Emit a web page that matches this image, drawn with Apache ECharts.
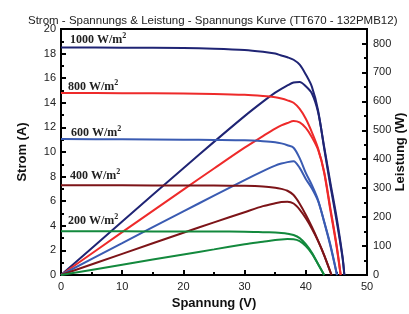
<!DOCTYPE html>
<html>
<head>
<meta charset="utf-8">
<script src="https://cdn.jsdelivr.net/npm/echarts@6/dist/echarts.min.js"></script>
<style>
  html, body { margin: 0; padding: 0; background: #fff; }
  #chart { width: 409px; height: 314px; }
</style>
</head>
<body>
<div id="chart"></div>
<script>
// Spannung (V) je Einstrahlung
const volt1000 = [0, 10, 20, 25, 30, 33, 35, 36, 37, 38, 39, 40, 41, 42, 43, 44, 45, 46, 46.3];
const volt800 = [0, 10, 20, 25, 30, 33, 35, 36, 37, 38, 39, 40, 41, 42, 43, 44, 45, 45.7];
const volt600 = [0, 10, 20, 25, 30, 33, 35, 36, 37, 38, 39, 40, 41, 42, 43, 44, 45.1];
const volt400 = [0, 10, 20, 25, 30, 33, 35, 36, 37, 38, 39, 40, 41, 42, 43, 44.2];
const volt200 = [0, 10, 20, 25, 30, 33, 35, 36, 37, 38, 39, 40, 41, 42, 43.0];

// Strom (A)
const strom1000 = [18.5, 18.48, 18.45, 18.4, 18.3, 18.15, 18.0, 17.85, 17.7, 17.5, 17.1, 16.3, 15.3, 13.4, 10.3, 7.3, 4.5, 1.4, 0];
const strom800 = [14.8, 14.78, 14.75, 14.72, 14.65, 14.55, 14.45, 14.35, 14.2, 14.0, 13.5, 12.7, 11.6, 10.3, 8.3, 5.3, 2.4, 0];
const strom600 = [11.05, 11.03, 11.0, 10.98, 10.95, 10.88, 10.8, 10.7, 10.55, 10.35, 9.5, 8.3, 7.3, 6.1, 4.3, 2.4, 0];
const strom400 = [7.3, 7.29, 7.28, 7.27, 7.25, 7.2, 7.1, 7.0, 6.85, 6.5, 5.8, 4.9, 3.9, 2.8, 1.6, 0];
const strom200 = [3.55, 3.55, 3.54, 3.54, 3.52, 3.48, 3.45, 3.42, 3.36, 3.25, 3.0, 2.5, 1.8, 0.9, 0];

// Leistung (W)
const leistung1000 = [0, 184.8, 369, 460, 549, 599, 630, 643, 655, 665, 667, 652, 627, 563, 443, 321, 203, 64, 0];
const leistung800 = [0, 148, 295, 368, 440, 480, 506, 517, 525, 532, 527, 508, 476, 433, 357, 233, 108, 0];
const leistung600 = [0, 110, 220, 274, 328, 359, 378, 385, 390, 393, 370, 332, 299, 256, 185, 106, 0];
const leistung400 = [0, 73, 146, 182, 217, 238, 248, 252, 253, 247, 226, 196, 160, 118, 69, 0];
const leistung200 = [0, 35.5, 71, 88.5, 106, 115, 121, 123, 124, 123.5, 117, 100, 74, 38, 0];

const kurven = [
  { name: "1000", volt: volt1000, strom: strom1000, leistung: leistung1000, color: "#1f2474", label: [70, 44] },
  { name: "800", volt: volt800, strom: strom800, leistung: leistung800, color: "#ee2a2a", label: [68, 91] },
  { name: "600", volt: volt600, strom: strom600, leistung: leistung600, color: "#3a5bb2", label: [71, 137] },
  { name: "400", volt: volt400, strom: strom400, leistung: leistung400, color: "#7d1418", label: [70, 180] },
  { name: "200", volt: volt200, strom: strom200, leistung: leistung200, color: "#13893d", label: [68, 225] }
];

const pair = (xs, ys) => xs.map((x, i) => [x, ys[i]]);

const series = [];
kurven.forEach(k => {
  series.push({
    name: k.name + " I", type: "line", yAxisIndex: 0, smooth: 0.3, showSymbol: false,
    data: pair(k.volt, k.strom), lineStyle: { width: 2, color: k.color }, z: 3
  });
  series.push({
    name: k.name + " P", type: "line", yAxisIndex: 1, smooth: 0.3, showSymbol: false,
    data: pair(k.volt, k.leistung), lineStyle: { width: 2, color: k.color }, z: 3
  });
});

const labelText = kurven.map(k => ({
  type: "text",
  left: k.label[0],
  top: k.label[1] - 12,
  z: 10,
  style: {
    text: "{a|" + k.name + " W/m}{s|2}",
    rich: {
      a: { font: "bold 12px 'Liberation Serif', 'DejaVu Serif', serif", fill: "#222", verticalAlign: "bottom" },
      s: { font: "bold 8px 'Liberation Serif', 'DejaVu Serif', serif", fill: "#222", verticalAlign: "top", padding: [0, 0, 6, 0] }
    }
  }
}));

const tickLabel = { fontSize: 11, color: "#222", fontFamily: "Liberation Sans, Arial, sans-serif" };
const axisName = { fontSize: 13, fontWeight: "bold", color: "#111", fontFamily: "Liberation Sans, Arial, sans-serif" };

const chart = echarts.init(document.getElementById("chart"));
chart.setOption({
  animation: false,
  title: {
    text: "Strom - Spannungs & Leistung - Spannungs Kurve (TT670 - 132PMB12)",
    left: 23, top: 10,
    textStyle: { fontSize: 11.5, fontWeight: "normal", color: "#222", fontFamily: "Liberation Sans, Arial, sans-serif" }
  },
  grid: {
    left: 61, right: 42, top: 29, bottom: 39, containLabel: false, outerBoundsMode: "none",
    show: true, borderColor: "#000", borderWidth: 2
  },
  xAxis: {
    type: "value", min: 0, max: 50, interval: 10,
    name: "Spannung (V)", nameLocation: "middle", nameGap: 22, nameMoveOverlap: false, nameTextStyle: axisName,
    axisLine: { show: true, lineStyle: { color: "#000", width: 2 } },
    axisTick: { inside: true, length: 5, lineStyle: { color: "#000", width: 2 } },
    minorTick: { show: true, splitNumber: 2, length: 3, lineStyle: { color: "#000", width: 2 } },
    splitLine: { show: false },
    axisLabel: Object.assign({ margin: 6 }, tickLabel)
  },
  yAxis: [
    {
      type: "value", min: 0, max: 20, interval: 2,
      name: "Strom (A)", nameLocation: "middle", nameGap: 32, nameMoveOverlap: false, nameTextStyle: axisName,
      axisLine: { show: true, lineStyle: { color: "#000", width: 2 } },
      axisTick: { inside: true, length: 5, lineStyle: { color: "#000", width: 2 } },
      minorTick: { show: true, splitNumber: 2, length: 3, lineStyle: { color: "#000", width: 2 } },
      splitLine: { show: false },
      axisLabel: Object.assign({ margin: 5 }, tickLabel)
    },
    {
      type: "value", min: 0, max: 850, interval: 100, position: "right",
      name: "Leistung (W)", nameLocation: "middle", nameGap: 27, nameMoveOverlap: false, nameTextStyle: axisName,
      axisLine: { show: true, lineStyle: { color: "#000", width: 2 } },
      axisTick: { inside: true, length: 5, lineStyle: { color: "#000", width: 2 } },
      minorTick: { show: true, splitNumber: 2, length: 3, lineStyle: { color: "#000", width: 2 } },
      splitLine: { show: false },
      axisLabel: Object.assign({ margin: 6, showMaxLabel: false }, tickLabel)
    }
  ],
  graphic: labelText,
  series: series
});
</script>
</body>
</html>
